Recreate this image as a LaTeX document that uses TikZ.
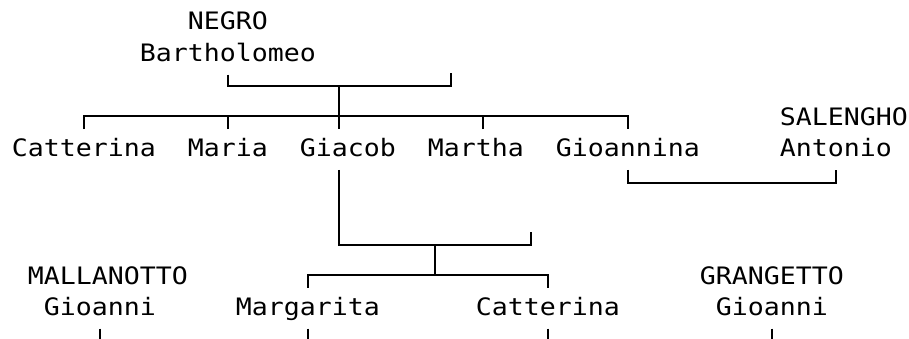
\documentclass[tikz,border=0pt]{standalone}
\usepackage{fontspec}
\newfontfamily\treefont[FakeStretch=1.1074]{DejaVu Sans Mono}
\usetikzlibrary{calc}
\tikzset{nm/.style={inner sep=0pt,anchor=base west,text height=13.5pt,text depth=6pt,font=\treefont\fontsize{12pt}{14pt}\selectfont}}
\begin{document}
\begin{tikzpicture}[x=8pt,y=-15.875pt,line width=.9pt]
\useasboundingbox(-.6875,-.945)rectangle(56.125,9.732);
\node[nm](negro)at(11,0){NEGRO};\node[nm](barth)at(8,1){Bartholomeo};
\node[nm](catt)at(0,4){Catterina};\node[nm](maria)at(11,4){Maria};\node[nm](giac)at(18,4){Giacob};\node[nm](mart)at(26,4){Martha};\node[nm](gioa)at(34,4){Gioannina};
\node[nm](saleng)at(48,3){SALENGHO};\node[nm](anton)at(48,4){Antonio};
\node[nm](mall)at(1,8){MALLANOTTO};\node[nm](gioM)at(2,9){Gioanni};
\node[nm](marg)at(14,9){Margarita};\node[nm](catt2)at(29,9){Catterina};
\node[nm](grang)at(43,8){GRANGETTO};\node[nm](gioG)at(44,9){Gioanni};
\coordinate(fam1)at(20.5,1.764);\coordinate(barthsp)at(27.5,1.354);\draw(barth.south)|-(fam1)-|(barthsp);
\draw(gioa.south)--++(0,.41)-|(anton.south);
\coordinate(fam2)at(26.5,6.77);\coordinate(giacsp)at(32.5,6.36);\draw($(giac.south west)+(2.5,0)$)|-(fam2)-|(giacsp);
\coordinate(kids1)at($(catt.north)-(0,.41)$);
\draw(catt.north)--(kids1)-|(gioa.north);\draw(maria.north)--++(0,-.41);\draw($(mart.north west)+(3.5,0)$)--++(0,-.41);\draw(fam1)--(fam1|-giac.north);
\coordinate(kids2)at($(marg.north)-(0,.41)$);
\draw(marg.north)--(kids2)-|(catt2.north);\draw(fam2)--(fam2|-kids2);
\draw(gioM.south)--++(0,.4);\draw(marg.south)--++(0,.4);\draw(catt2.south)--++(0,.4);\draw(gioG.south)--++(0,.4);
\end{tikzpicture}
\end{document}
